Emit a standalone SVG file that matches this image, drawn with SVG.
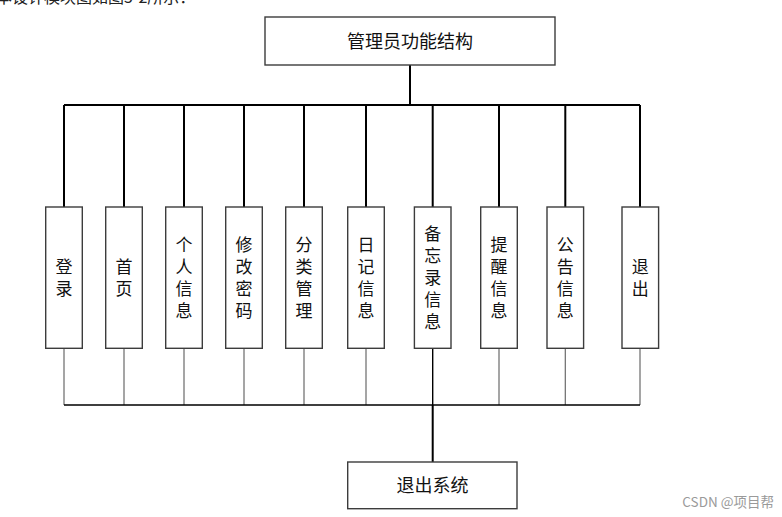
<svg xmlns="http://www.w3.org/2000/svg" width="782" height="517" viewBox="0 0 782 517">
<style>
  .box { fill: #ffffff; stroke: #3c3c3c; stroke-width: 1.4; }
  .t { font-family: "Noto Sans CJK SC", sans-serif; font-size: 17px; fill: #111; text-anchor: middle; writing-mode: vertical-rl; letter-spacing: 5px; }
  .big { font-family: "Noto Sans CJK SC", sans-serif; font-size: 18px; fill: #111; text-anchor: middle; }
  .top { stroke: #000; stroke-width: 2; fill: none; }
  .low { stroke: #6a6a6a; stroke-width: 1.2; fill: none; }
  .bus { stroke: #000; stroke-width: 1.4; fill: none; }
</style>
<rect width="782" height="517" fill="#ffffff"/>
<text x="-4" y="2.5" font-family="Noto Sans CJK SC, sans-serif" font-size="16" fill="#222">本设计模块图如图5-2所示：</text>
<g id="connectors">
  <path class="top" d="M410 65 V105 M64 105 H640 M64 105 V207 M124 105 V207 M184 105 V207 M244 105 V207 M304 105 V207 M366 105 V207 M432.7 105 V207 M499 105 V207 M565.3 105 V207 M640 105 V207"/>
  <path class="low" d="M64 348 V405 M124 348 V405 M184 348 V405 M244 348 V405 M304 348 V405 M366 348 V405 M499 348 V405 M565.3 348 V405 M640 348 V405"/>
  <path class="bus" d="M64 405 H640 M432.7 348 V405"/>
  <path class="top" d="M432.7 405 V462"/>
</g>
<g id="root"><rect class="box" x="265" y="17" width="290" height="48"/><text class="big" x="410" y="48">管理员功能结构</text></g>
<g id="n1"><rect class="box" x="45.7" y="207" width="36.6" height="141.3"/><text class="t" x="64" y="280">登录</text></g>
<g id="n2"><rect class="box" x="105.7" y="207" width="36.6" height="141.3"/><text class="t" x="124" y="280">首页</text></g>
<g id="n3"><rect class="box" x="165.7" y="207" width="36.6" height="141.3"/><text class="t" x="184" y="280">个人信息</text></g>
<g id="n4"><rect class="box" x="225.7" y="207" width="36.6" height="141.3"/><text class="t" x="244" y="280">修改密码</text></g>
<g id="n5"><rect class="box" x="285.7" y="207" width="36.6" height="141.3"/><text class="t" x="304" y="280">分类管理</text></g>
<g id="n6"><rect class="box" x="347.7" y="207" width="36.6" height="141.3"/><text class="t" x="366" y="280">日记信息</text></g>
<g id="n7"><rect class="box" x="414.4" y="207" width="36.6" height="141.3"/><text class="t" x="432.7" y="280">备忘录信息</text></g>
<g id="n8"><rect class="box" x="480.7" y="207" width="36.6" height="141.3"/><text class="t" x="499" y="280">提醒信息</text></g>
<g id="n9"><rect class="box" x="547" y="207" width="36.6" height="141.3"/><text class="t" x="565.3" y="280">公告信息</text></g>
<g id="n10"><rect class="box" x="622" y="207" width="36.6" height="141.3"/><text class="t" x="640.3" y="280">退出</text></g>
<g id="exit"><rect class="box" x="347.7" y="462" width="169.3" height="46.7"/><text class="big" x="432.4" y="492">退出系统</text></g>
<text x="774" y="507" text-anchor="end" font-family="Noto Sans CJK SC, sans-serif" font-size="13.5" fill="#9a9a9a">CSDN @项目帮</text>
</svg>
